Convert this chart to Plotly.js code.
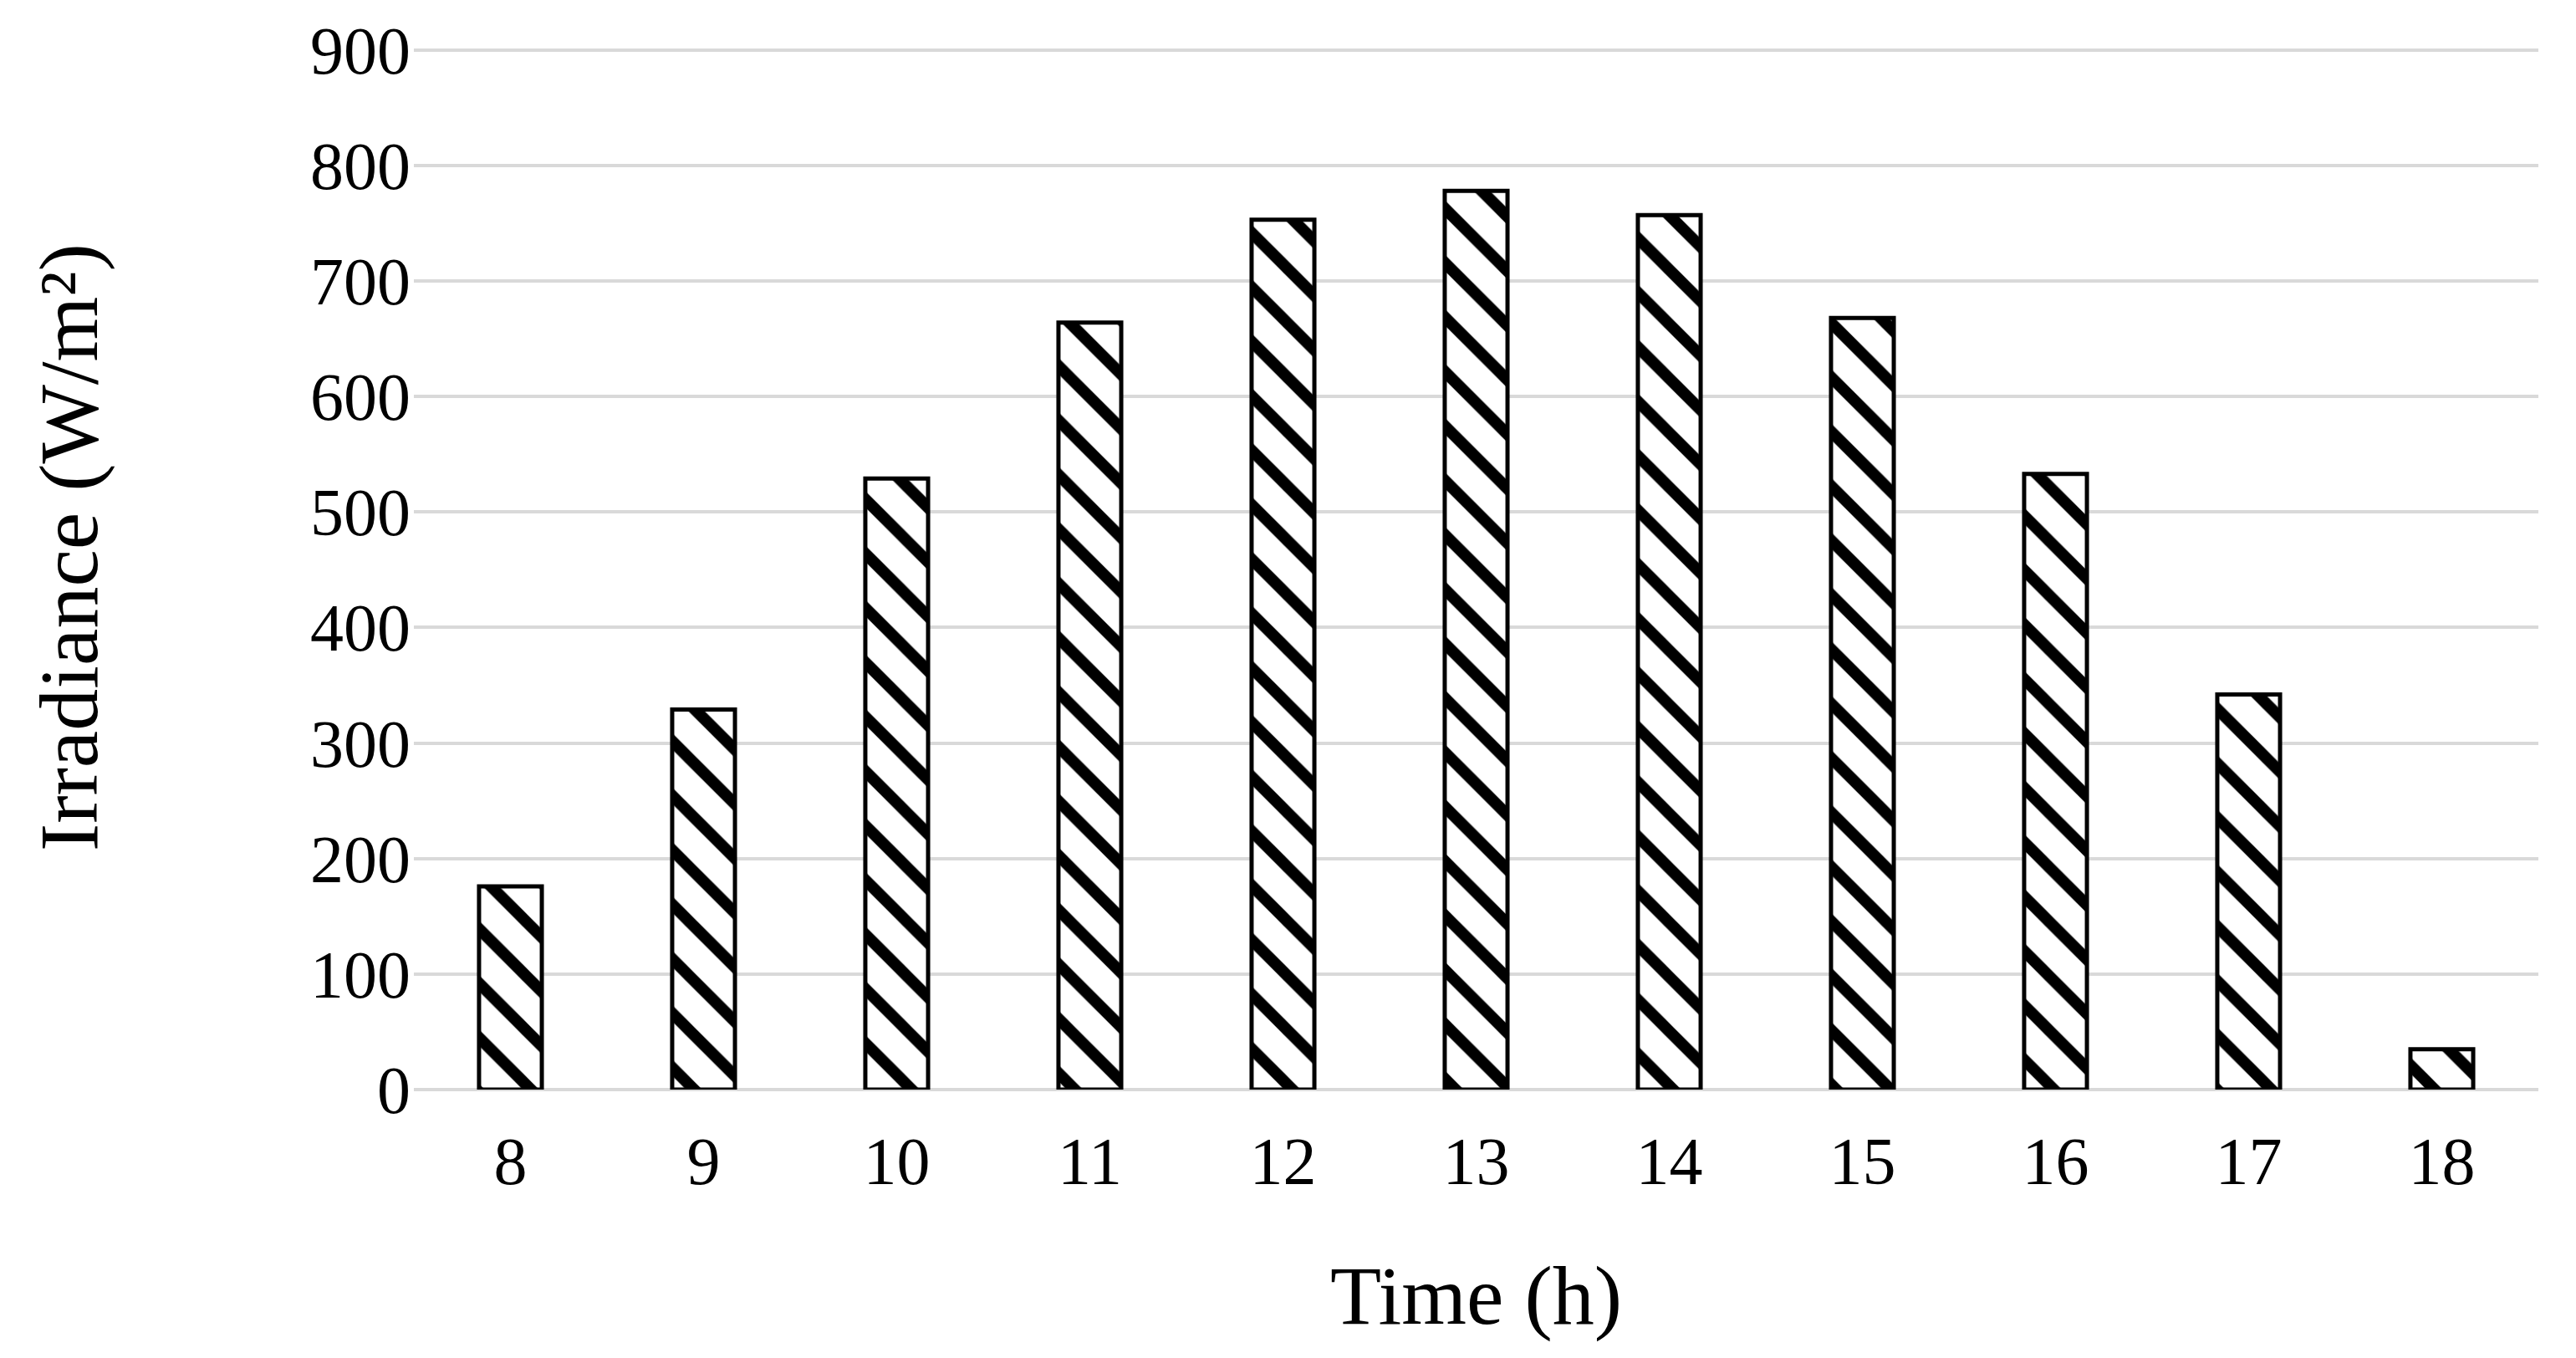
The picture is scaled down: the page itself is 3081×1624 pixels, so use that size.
<!DOCTYPE html>
<html>
<head>
<meta charset="utf-8">
<script src="https://cdn.plot.ly/plotly-3.0.1.min.js"></script>
<style>
  html, body { margin: 0; padding: 0; background: #ffffff; }
  #chart { width: 3081px; height: 1624px; }
</style>
</head>
<body>
<div id="chart"></div>
<script>
(function() {
    'use strict';

    // Hourly irradiance
    var hours = ['8', '9', '10', '11', '12', '13', '14', '15', '16', '17', '18'];
    var irradiance = [176, 329, 529, 664, 753, 778, 757, 668, 533, 342, 35];

    var yTicks = [0, 100, 200, 300, 400, 500, 600, 700, 800, 900];

    var serif = '"Liberation Serif", "Times New Roman", serif';

    var trace = {
        type: 'bar',
        x: hours,
        y: irradiance,
        marker: {
            color: '#ffffff',
            line: { color: '#000000', width: 5 },
            pattern: {
                shape: '\\',
                fgcolor: '#000000',
                bgcolor: '#ffffff',
                fgopacity: 1,
                fillmode: 'replace',
                size: 46,
                solidity: 0.3
            }
        },
        hoverinfo: 'x+y'
    };

    var layout = {
        width: 3081,
        height: 1624,
        margin: { t: 57, r: 45, b: 321, l: 495 },
        paper_bgcolor: '#ffffff',
        plot_bgcolor: '#ffffff',
        font: { family: serif, color: '#000000', size: 80 },
        showlegend: false,
        bargap: 0.675,
        xaxis: {
            type: 'category',
            showgrid: false,
            showline: false,
            zeroline: false,
            ticks: '',
            ticklabelstandoff: 32,
            tickfont: { family: serif, size: 80, color: '#000000' },
            title: {
                text: 'Time (h)',
                font: { family: serif, size: 100, color: '#000000' },
                standoff: 80
            }
        },
        yaxis: {
            // a hair above 900 so the top gridline is still drawn
            range: [0, 902],
            tickvals: yTicks,
            ticktext: yTicks.map(String),
            showgrid: true,
            gridcolor: '#d9d9d9',
            gridwidth: 4,
            zeroline: true,
            zerolinecolor: '#d9d9d9',
            zerolinewidth: 4,
            showline: false,
            ticks: '',
            ticklabelstandoff: 3,
            tickfont: { family: serif, size: 80, color: '#000000' }
        },
        // y title sits a little above the plot centre in the figure
        annotations: [{
            text: 'Irradiance (W/m\u00b2)',
            xref: 'paper',
            yref: 'paper',
            x: 0,
            y: 0.52,
            xanchor: 'center',
            yanchor: 'middle',
            xshift: -413,
            textangle: -90,
            showarrow: false,
            font: { family: serif, size: 100, color: '#000000' }
        }]
    };

    Plotly.newPlot('chart', [trace], layout, { displayModeBar: false, staticPlot: true });
})();
</script>
</body>
</html>
